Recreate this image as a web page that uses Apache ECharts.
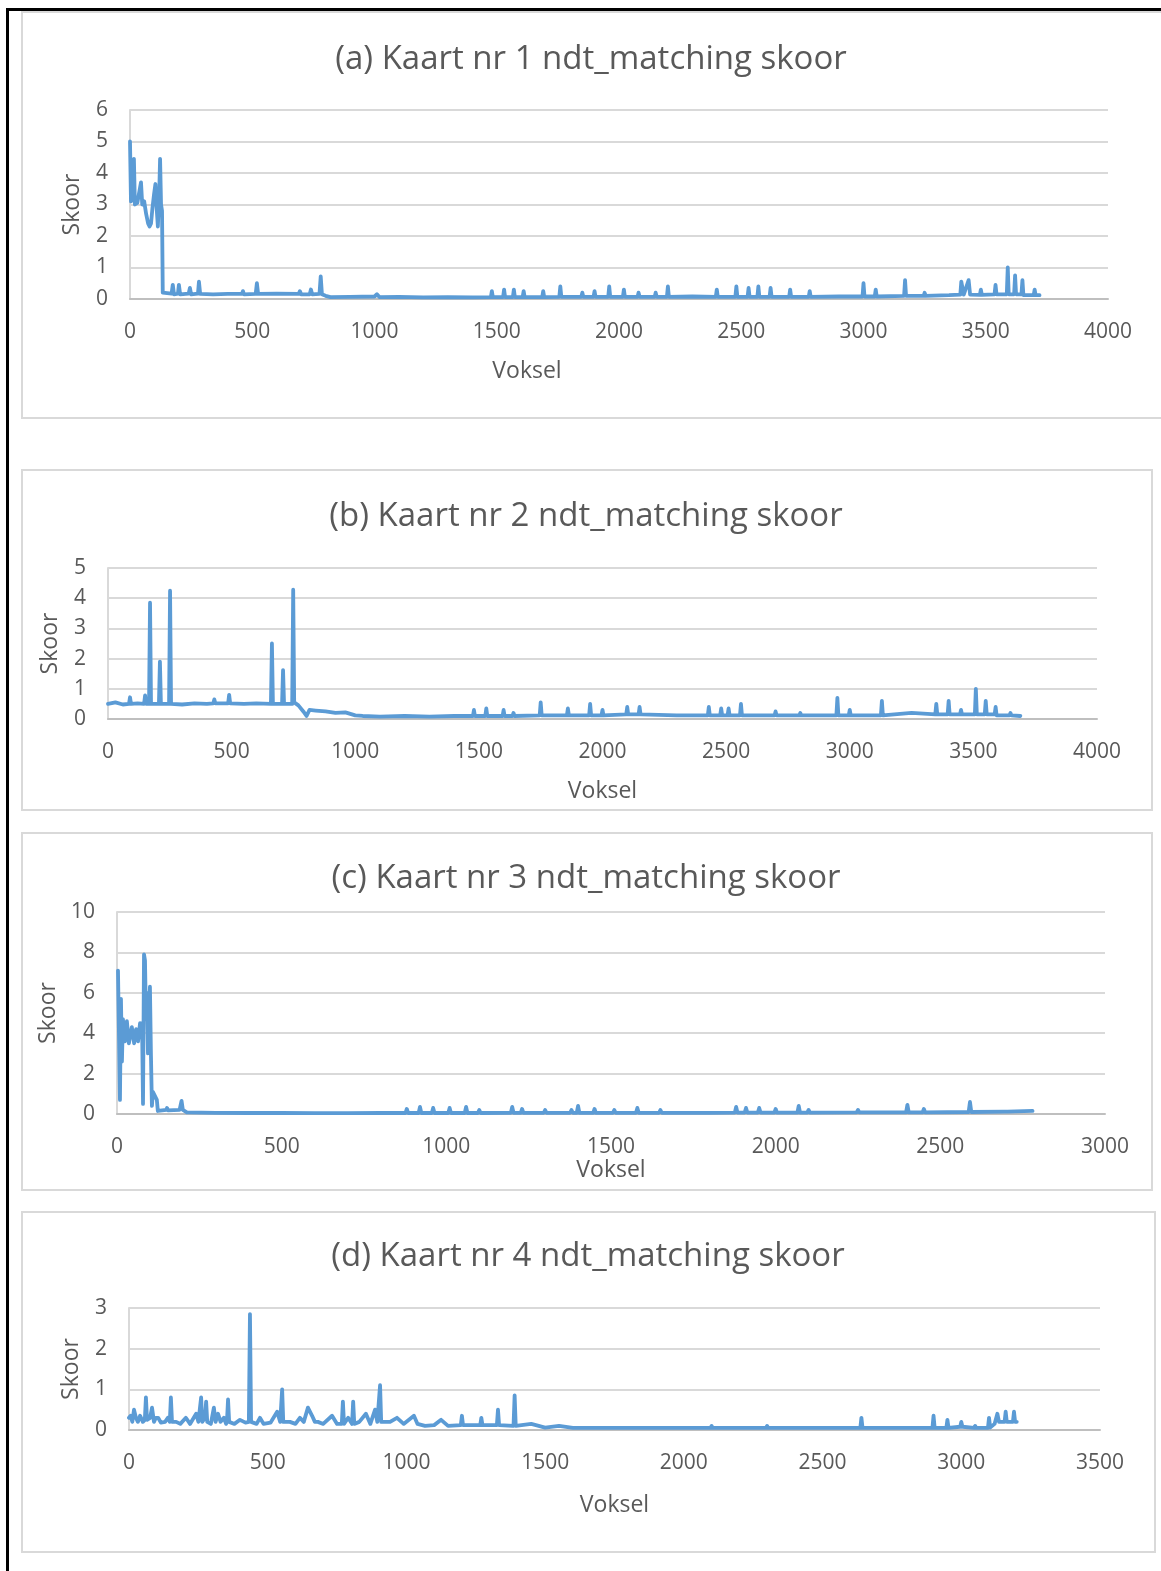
<!DOCTYPE html>
<html>
<head>
<meta charset="utf-8">
<script src="https://cdn.jsdelivr.net/npm/echarts@6/dist/echarts.min.js"></script>
<style>
html, body { margin: 0; padding: 0; background: #fff; }
#main { width: 1161px; height: 1571px; }
</style>
</head>
<body>
<div id="main"></div>
<script>
// [voksel, skoor] - afgelees van die prent
var dataA = [
    [0, 5.0], [4, 3.1], [10, 3.2], [16, 4.45], [20, 3.0], [30, 3.05], [38, 3.0], [45, 3.7], [50, 3.0],
    [58, 3.1], [66, 2.7], [74, 2.4], [80, 2.3], [86, 2.4], [92, 2.9], [98, 3.3], [104, 3.65], [108, 3.0],
    [114, 2.3], [120, 3.5], [123, 4.45], [127, 3.0], [131, 2.8], [134, 0.2], [140, 0.15], [170, 0.17],
    [175, 0.45], [180, 0.15], [196, 0.17], [200, 0.45], [205, 0.15], [240, 0.17], [245, 0.35], [250, 0.15],
    [278, 0.17], [282, 0.55], [287, 0.16], [340, 0.15], [400, 0.16], [458, 0.16], [462, 0.25], [466, 0.15],
    [514, 0.16], [519, 0.5], [524, 0.16], [600, 0.17], [690, 0.16], [695, 0.25], [700, 0.15], [735, 0.15],
    [740, 0.3], [745, 0.15], [775, 0.16], [780, 0.72], [785, 0.15], [800, 0.1], [820, 0.06], [900, 0.07],
    [1000, 0.08], [1010, 0.15], [1020, 0.06], [1100, 0.07], [1200, 0.05], [1300, 0.06], [1400, 0.05],
    [1476, 0.06], [1480, 0.25], [1484, 0.06], [1526, 0.06], [1530, 0.3], [1534, 0.06], [1566, 0.06],
    [1570, 0.3], [1574, 0.06], [1606, 0.06], [1610, 0.25], [1614, 0.06], [1686, 0.06], [1690, 0.25],
    [1694, 0.06], [1756, 0.07], [1760, 0.4], [1764, 0.07], [1846, 0.07], [1850, 0.2], [1854, 0.07],
    [1896, 0.07], [1900, 0.25], [1904, 0.07], [1956, 0.07], [1960, 0.4], [1964, 0.07], [2016, 0.07],
    [2020, 0.3], [2024, 0.07], [2076, 0.07], [2080, 0.2], [2084, 0.07], [2146, 0.07], [2150, 0.2],
    [2154, 0.07], [2196, 0.07], [2200, 0.4], [2204, 0.07], [2300, 0.08], [2396, 0.07], [2400, 0.3],
    [2404, 0.07], [2476, 0.07], [2480, 0.4], [2484, 0.07], [2526, 0.07], [2530, 0.35], [2534, 0.07],
    [2566, 0.07], [2570, 0.4], [2574, 0.07], [2616, 0.07], [2620, 0.35], [2624, 0.07], [2696, 0.07],
    [2700, 0.3], [2704, 0.07], [2776, 0.07], [2780, 0.25], [2784, 0.07], [2900, 0.08], [2996, 0.08],
    [3000, 0.5], [3004, 0.08], [3046, 0.08], [3050, 0.3], [3054, 0.08], [3166, 0.1], [3170, 0.6],
    [3174, 0.1], [3246, 0.1], [3250, 0.2], [3254, 0.1], [3350, 0.12], [3396, 0.14], [3400, 0.55],
    [3410, 0.14], [3430, 0.6], [3436, 0.14], [3476, 0.13], [3480, 0.3], [3484, 0.13], [3536, 0.15],
    [3540, 0.45], [3544, 0.15], [3586, 0.15], [3590, 1.0], [3594, 0.15], [3616, 0.15], [3620, 0.75],
    [3624, 0.15], [3646, 0.15], [3650, 0.6], [3654, 0.12], [3696, 0.12], [3700, 0.3], [3704, 0.12],
    [3720, 0.12]
];

var dataB = [
    [0, 0.5], [30, 0.55], [60, 0.48], [85, 0.5], [89, 0.72], [93, 0.5], [120, 0.52], [146, 0.5],
    [150, 0.78], [154, 0.5], [166, 0.5], [170, 3.85], [174, 0.5], [206, 0.5], [210, 1.9], [214, 0.5],
    [247, 0.5], [251, 4.25], [255, 0.5], [300, 0.48], [350, 0.52], [400, 0.5], [426, 0.52], [430, 0.65],
    [434, 0.52], [486, 0.52], [490, 0.8], [494, 0.52], [550, 0.5], [600, 0.52], [659, 0.5], [663, 2.5],
    [667, 0.5], [704, 0.5], [708, 1.62], [712, 0.5], [745, 0.5], [749, 4.28], [753, 0.55], [770, 0.45],
    [790, 0.25], [803, 0.1], [815, 0.3], [840, 0.28], [880, 0.25], [920, 0.2], [960, 0.22], [1000, 0.12],
    [1030, 0.1], [1100, 0.08], [1200, 0.1], [1300, 0.08], [1400, 0.1], [1476, 0.1], [1480, 0.3],
    [1484, 0.1], [1526, 0.1], [1530, 0.35], [1534, 0.1], [1596, 0.1], [1600, 0.3], [1604, 0.1],
    [1636, 0.1], [1640, 0.2], [1644, 0.1], [1746, 0.12], [1750, 0.55], [1754, 0.12], [1856, 0.12],
    [1860, 0.35], [1864, 0.12], [1946, 0.12], [1950, 0.5], [1954, 0.12], [1996, 0.12], [2000, 0.3],
    [2004, 0.12], [2096, 0.15], [2100, 0.4], [2104, 0.15], [2146, 0.15], [2150, 0.4], [2154, 0.15],
    [2300, 0.12], [2426, 0.12], [2430, 0.4], [2434, 0.12], [2476, 0.12], [2480, 0.35], [2484, 0.12],
    [2506, 0.12], [2510, 0.35], [2514, 0.12], [2556, 0.12], [2560, 0.5], [2564, 0.12], [2696, 0.12],
    [2700, 0.25], [2704, 0.12], [2796, 0.12], [2800, 0.2], [2804, 0.12], [2946, 0.12], [2950, 0.7],
    [2954, 0.12], [2996, 0.12], [3000, 0.3], [3004, 0.12], [3126, 0.12], [3130, 0.6], [3134, 0.12],
    [3250, 0.2], [3346, 0.15], [3350, 0.5], [3354, 0.15], [3396, 0.15], [3400, 0.6], [3404, 0.15],
    [3446, 0.15], [3450, 0.3], [3454, 0.15], [3506, 0.15], [3510, 1.0], [3514, 0.15], [3546, 0.15],
    [3550, 0.6], [3554, 0.15], [3586, 0.15], [3590, 0.4], [3594, 0.12], [3646, 0.12], [3650, 0.2],
    [3654, 0.12], [3690, 0.1]
];

var dataC = [
    [3, 7.1], [9, 0.7], [12, 5.7], [15, 2.6], [18, 4.7], [24, 3.6], [30, 4.6], [36, 3.5], [45, 4.3],
    [52, 3.5], [58, 4.2], [64, 3.6], [70, 4.5], [73, 3.8], [76, 4.5], [79, 0.5], [82, 7.9], [85, 7.6],
    [88, 4.7], [91, 6.0], [94, 3.0], [100, 6.3], [103, 3.0], [106, 0.4], [109, 1.1], [115, 0.9],
    [121, 0.7], [124, 0.15], [150, 0.2], [152, 0.3], [155, 0.18], [190, 0.2], [196, 0.65], [200, 0.2],
    [212, 0.08], [300, 0.06], [400, 0.05], [500, 0.05], [600, 0.04], [700, 0.04], [800, 0.05],
    [876, 0.05], [880, 0.25], [884, 0.05], [916, 0.05], [920, 0.35], [924, 0.05], [956, 0.05],
    [960, 0.3], [964, 0.05], [1006, 0.05], [1010, 0.3], [1014, 0.05], [1056, 0.05], [1060, 0.35],
    [1064, 0.05], [1096, 0.05], [1100, 0.2], [1104, 0.05], [1196, 0.06], [1200, 0.35], [1204, 0.06],
    [1226, 0.06], [1230, 0.25], [1234, 0.06], [1296, 0.06], [1300, 0.2], [1304, 0.06], [1376, 0.06],
    [1380, 0.2], [1384, 0.06], [1396, 0.06], [1400, 0.4], [1404, 0.06], [1446, 0.06], [1450, 0.25],
    [1454, 0.06], [1506, 0.06], [1510, 0.2], [1514, 0.06], [1576, 0.06], [1580, 0.3], [1584, 0.06],
    [1646, 0.06], [1650, 0.2], [1654, 0.06], [1800, 0.06], [1876, 0.07], [1880, 0.35], [1884, 0.07],
    [1906, 0.07], [1910, 0.3], [1914, 0.07], [1946, 0.07], [1950, 0.3], [1954, 0.07], [1996, 0.07],
    [2000, 0.25], [2004, 0.07], [2066, 0.07], [2070, 0.4], [2074, 0.07], [2096, 0.07], [2100, 0.2],
    [2104, 0.07], [2246, 0.08], [2250, 0.2], [2254, 0.08], [2396, 0.08], [2400, 0.45], [2404, 0.08],
    [2446, 0.08], [2450, 0.25], [2454, 0.08], [2586, 0.1], [2590, 0.6], [2594, 0.1], [2696, 0.12],
    [2700, 0.2], [2704, 0.12], [2780, 0.15]
];

var dataD = [
    [0, 0.3], [6, 0.35], [12, 0.2], [18, 0.5], [25, 0.3], [32, 0.2], [40, 0.35], [50, 0.2], [57, 0.25],
    [61, 0.8], [65, 0.25], [76, 0.3], [83, 0.55], [90, 0.2], [97, 0.3], [105, 0.3], [115, 0.18],
    [130, 0.2], [140, 0.3], [147, 0.2], [151, 0.8], [155, 0.2], [170, 0.2], [185, 0.15], [205, 0.3],
    [220, 0.15], [242, 0.4], [250, 0.2], [256, 0.2], [260, 0.8], [264, 0.2], [274, 0.3], [278, 0.7],
    [282, 0.2], [295, 0.15], [306, 0.55], [312, 0.2], [321, 0.4], [330, 0.2], [342, 0.3], [350, 0.15],
    [353, 0.2], [357, 0.75], [361, 0.2], [380, 0.15], [400, 0.25], [420, 0.18], [432, 0.2], [436, 2.85],
    [440, 0.2], [460, 0.15], [472, 0.3], [485, 0.15], [510, 0.18], [534, 0.45], [545, 0.2], [548, 0.2],
    [552, 1.0], [556, 0.2], [580, 0.2], [600, 0.15], [616, 0.3], [630, 0.2], [645, 0.55], [660, 0.35],
    [670, 0.2], [681, 0.2], [700, 0.15], [732, 0.35], [750, 0.15], [767, 0.15], [771, 0.7], [775, 0.15],
    [790, 0.3], [804, 0.15], [808, 0.7], [812, 0.15], [830, 0.2], [854, 0.4], [870, 0.15], [887, 0.5],
    [895, 0.2], [901, 0.2], [905, 1.1], [909, 0.2], [941, 0.2], [966, 0.3], [990, 0.15], [1027, 0.35],
    [1040, 0.15], [1067, 0.1], [1100, 0.12], [1125, 0.25], [1150, 0.1], [1196, 0.12], [1200, 0.35],
    [1204, 0.12], [1266, 0.12], [1270, 0.3], [1274, 0.12], [1326, 0.12], [1330, 0.5], [1334, 0.12],
    [1386, 0.1], [1390, 0.85], [1394, 0.1], [1450, 0.15], [1500, 0.06], [1550, 0.1], [1600, 0.05],
    [1800, 0.05], [2000, 0.05], [2096, 0.05], [2100, 0.1], [2104, 0.05], [2296, 0.05], [2300, 0.1],
    [2304, 0.05], [2500, 0.05], [2636, 0.05], [2640, 0.3], [2644, 0.05], [2800, 0.05], [2896, 0.05],
    [2900, 0.35], [2904, 0.05], [2946, 0.05], [2950, 0.25], [2954, 0.05], [2996, 0.08], [3000, 0.2],
    [3004, 0.08], [3046, 0.05], [3050, 0.1], [3054, 0.05], [3096, 0.05], [3100, 0.3], [3104, 0.06],
    [3120, 0.15], [3130, 0.4], [3136, 0.2], [3156, 0.2], [3160, 0.45], [3164, 0.2], [3186, 0.2],
    [3190, 0.45], [3194, 0.2], [3200, 0.2]
];

var titles = [
    '(a) Kaart nr 1 ndt_matching skoor',
    '(b) Kaart nr 2 ndt_matching skoor',
    '(c) Kaart nr 3 ndt_matching skoor',
    '(d) Kaart nr 4 ndt_matching skoor'
];
var xMax = [4000, 4000, 3000, 3500];
var yMax = [6, 5, 10, 3];
var yStep = [1, 1, 2, 1];

var chart = echarts.init(document.getElementById('main'));

var font = 'Open Sans';
var txt = '#595959';
var blue = '#5b9bd5';

// posisie van elke grafiek
var grids = [
    { left: 130, right: 53, top: 110, height: 189 },
    { left: 108, right: 64, top: 568, height: 151 },
    { left: 117, right: 56, top: 912, height: 202 },
    { left: 129, right: 61, top: 1308, height: 122 }
];
var titlePos = [[591, 43], [586, 500], [586, 862], [588, 1240]];
var xNameGap = [61, 61, 40, 64];
// (a) se "Voksel" staan links van die middel
var xNamePad = [[0, 184, 0, 0], 0, 0, 0];
var allData = [dataA, dataB, dataC, dataD];

var option = {
    animation: false,
    textStyle: { fontFamily: font },
    title: titles.map(function(t, i) {
        return {
            text: t,
            left: titlePos[i][0],
            top: titlePos[i][1],
            textAlign: 'center',
            padding: 0,
            textStyle: { color: txt, fontFamily: font, fontSize: 33, fontWeight: 'normal' }
        };
    }),
    grid: grids,
    xAxis: grids.map(function(g, i) {
        return {
            type: 'value',
            gridIndex: i,
            min: 0,
            max: xMax[i],
            interval: 500,
            name: 'Voksel',
            nameLocation: 'middle',
            nameGap: xNameGap[i],
            nameTextStyle: { color: txt, fontFamily: font, fontSize: 23, padding: xNamePad[i] },
            axisLine: { show: true, onZero: false, lineStyle: { color: '#bfbfbf', width: 2 } },
            axisTick: { show: false },
            axisLabel: {
                color: txt, fontFamily: font, fontSize: 21, margin: 23,
                formatter: function(v) { return String(v); }
            },
            splitLine: { show: false }
        };
    }),
    yAxis: grids.map(function(g, i) {
        return {
            type: 'value',
            gridIndex: i,
            min: 0,
            max: yMax[i],
            interval: yStep[i],
            name: 'Skoor',
            nameLocation: 'middle',
            nameGap: 46,
            nameTextStyle: { color: txt, fontFamily: font, fontSize: 23 },
            axisLine: { show: true, lineStyle: { color: '#d9d9d9', width: 2 } },
            axisTick: { show: false },
            axisLabel: { color: txt, fontFamily: font, fontSize: 21, margin: 22 },
            splitLine: { show: true, lineStyle: { color: '#d9d9d9', width: 2 } }
        };
    }),
    series: allData.map(function(d, i) {
        return {
            type: 'line',
            xAxisIndex: i,
            yAxisIndex: i,
            data: d,
            showSymbol: false,
            lineStyle: { color: blue, width: 3.8, cap: 'round', join: 'round' },
            itemStyle: { color: blue }
        };
    }),
    graphic: [
        // swart buiterand
        { type: 'polyline', shape: { points: [[7.5, 1580], [7.5, 9.5], [1170, 9.5]] },
          style: { stroke: '#000', lineWidth: 3, fill: null }, z: -1 },
        // grys blokke
        { type: 'rect', shape: { x: 22, y: 12, width: 1160, height: 406 },
          style: { stroke: '#d9d9d9', lineWidth: 2, fill: null }, z: -1 },
        { type: 'rect', shape: { x: 22, y: 470, width: 1130, height: 340 },
          style: { stroke: '#d9d9d9', lineWidth: 2, fill: null }, z: -1 },
        { type: 'rect', shape: { x: 22, y: 833, width: 1130, height: 357 },
          style: { stroke: '#d9d9d9', lineWidth: 2, fill: null }, z: -1 },
        { type: 'rect', shape: { x: 22, y: 1212, width: 1133, height: 340 },
          style: { stroke: '#d9d9d9', lineWidth: 2, fill: null }, z: -1 }
    ]
};

chart.setOption(option);

window.addEventListener('resize', function() {
    chart.resize();
});
</script>
</body>
</html>
